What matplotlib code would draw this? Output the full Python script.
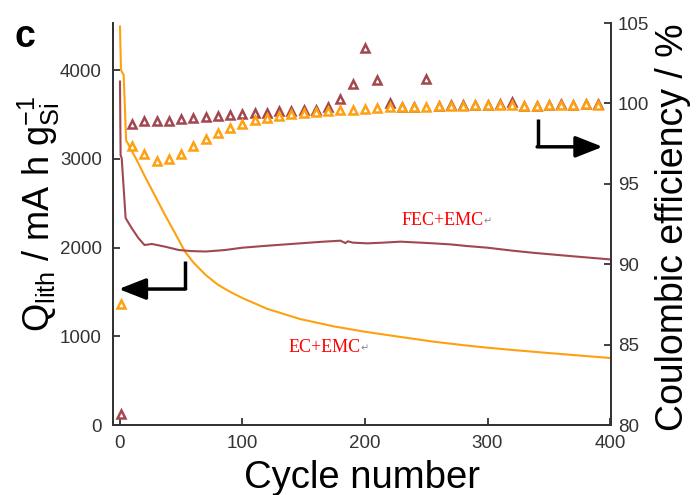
import matplotlib
matplotlib.use('Agg')
from matplotlib import pyplot as plt

plt.rcParams['font.family'] = ['Liberation Sans', 'DejaVu Sans']
plt.rcParams['mathtext.fontset'] = 'custom'
plt.rcParams['mathtext.rm'] = 'Liberation Sans'
plt.rcParams['mathtext.it'] = 'Liberation Sans:italic'

# capacity curves (left axis)
ec_cycle = [0, 0.8, 3, 5, 10, 15, 20, 30, 37, 45, 53, 60, 70, 80, 90, 100,
            120, 147, 175, 200, 230, 256, 280, 300, 325, 350, 375, 400]
ec_cap = [4490, 4000, 3945, 3210, 3080, 2950, 2810, 2545, 2360, 2160, 1955,
          1830, 1690, 1580, 1500, 1430, 1310, 1194, 1110, 1051, 990, 939,
          900, 871, 840, 811, 783, 755]

fec_cycle = [0, 0.5, 1.4, 4.6, 9.5, 15, 20, 26, 37, 48, 58, 70, 86, 100, 120,
             147, 165, 180, 184, 186, 190, 202, 215, 229, 245, 256, 270, 283,
             300, 320, 337, 364, 400]
fec_cap = [3870, 3040, 3008, 2332, 2220, 2107, 2028, 2040, 2009, 1972, 1960,
           1955, 1972, 1998, 2020, 2047, 2065, 2077, 2050, 2070, 2055, 2047,
           2055, 2066, 2055, 2047, 2035, 2017, 1998, 1965, 1941, 1908, 1866]

# coulombic efficiency (right axis), cycle 1 then every 10 cycles
ce_cycle = [1] + list(range(10, 400, 10))
ec_ce = [87.5,
         97.35, 96.88, 96.42, 96.52, 96.88, 97.35, 97.77, 98.15, 98.5, 98.75,
         98.96, 99.12, 99.21, 99.33, 99.42, 99.48, 99.54, 99.58, 99.62, 99.67,
         99.71, 99.75, 99.75, 99.75, 99.79, 99.83, 99.83, 99.85, 99.9, 99.9,
         99.92, 99.92, 99.85, 99.85, 99.9, 99.92, 99.9, 99.96, 99.92]
fec_ce = [80.7,
          98.75, 98.88, 98.88, 98.9, 99.0, 99.1, 99.17, 99.2, 99.29, 99.33,
          99.38, 99.42, 99.5, 99.54, 99.58, 99.58, 99.79, 100.27, 101.2, 103.46,
          101.48, 100.02, 99.8, 99.8, 101.5, 99.85, 99.88, 99.9, 99.92, 99.92,
          99.94, 100.1, 99.86, 99.86, 99.92, 99.94, 99.92, 99.98, 99.94]

orange = '#FFA010'
brown = '#A2474F'
dark = '#333333'

fig = plt.figure(figsize=(6.98, 4.95), dpi=100)
ax = fig.add_axes([113 / 698, 1 - 425 / 495, 498 / 698, 402 / 495])
ax2 = ax.twinx()

ax.plot(ec_cycle, ec_cap, color=orange, lw=1.5)
ax.plot(fec_cycle, fec_cap, color=brown, lw=1.5)

mk = dict(ls='none', marker='^', ms=5.2, mfc='white', mew=1.8)
ax2.plot(ce_cycle, fec_ce, mec=brown, **mk)
ax2.plot(ce_cycle, ec_ce, mec=orange, **mk)

ax.set_xlim(-5.7, 400.8)
ax.set_ylim(0, 4530)
ax2.set_ylim(80, 105)
ax.set_xticks([0, 100, 200, 300, 400])
ax.set_yticks([0, 1000, 2000, 3000, 4000])
ax2.set_yticks([80, 85, 90, 95, 100, 105])

for a in (ax, ax2):
    a.spines['top'].set_visible(False)
    for s in a.spines.values():
        s.set_color(dark)
        s.set_linewidth(1.3)
    a.tick_params(direction='in', length=5, width=1.3, color=dark,
                  labelsize=13.5, labelcolor=dark)
ax.tick_params(axis='y', pad=8)
ax.tick_params(axis='x', pad=7)
ax2.tick_params(axis='y', pad=5)

ax.set_xlabel('Cycle number', fontsize=27.5)
ax.xaxis.set_label_coords(0.5, -0.087)
ax.xaxis.label.set_va('top')
ax.set_ylabel(r'Q$_{\mathrm{lith}}$ / mA h g$_{\mathrm{Si}}^{-1}$', fontsize=26)
ax.yaxis.set_label_coords(-0.102, 0.524)
ax.yaxis.label.set_va('bottom')
ax2.set_ylabel('Coulombic efficiency / %', fontsize=27)
ax2.yaxis.set_label_coords(1.088, 0.4925)
ax2.yaxis.label.set_va('top')

# arrows pointing to the axes
ax.plot([53, 53], [1848, 1532], color='black', lw=2.5, solid_capstyle='butt')
ax.annotate('', xy=(-1, 1532), xytext=(53.5, 1532),
            arrowprops=dict(arrowstyle='-|>,head_length=1.65,head_width=0.65',
                            color='black', lw=2.5, mutation_scale=10,
                            shrinkA=0, shrinkB=0))
ax2.plot([341, 341], [99.02, 97.3], color='black', lw=2.5, solid_capstyle='butt')
ax2.annotate('', xy=(394, 97.3), xytext=(340.5, 97.3),
             arrowprops=dict(arrowstyle='-|>,head_length=1.65,head_width=0.65',
                             color='black', lw=2.5, mutation_scale=10,
                             shrinkA=0, shrinkB=0))

serif = ['Liberation Serif', 'DejaVu Serif']
for label, x, y in [('FEC+EMC', 230, 2253), ('EC+EMC', 137.4, 826)]:
    t = ax.text(x, y, label, color='red', fontsize=13, family=serif,
                va='baseline', ha='left')
    ax.annotate('\u21b5', xy=(1, 0.15), xycoords=t, fontsize=7,
                color='#888888', family=['DejaVu Sans'], va='bottom', ha='left')

fig.text(14 / 698, 1 - 47 / 495, 'c', fontsize=27, fontweight='bold',
         va='baseline', ha='left')

fig.savefig('out.png', dpi=100)
